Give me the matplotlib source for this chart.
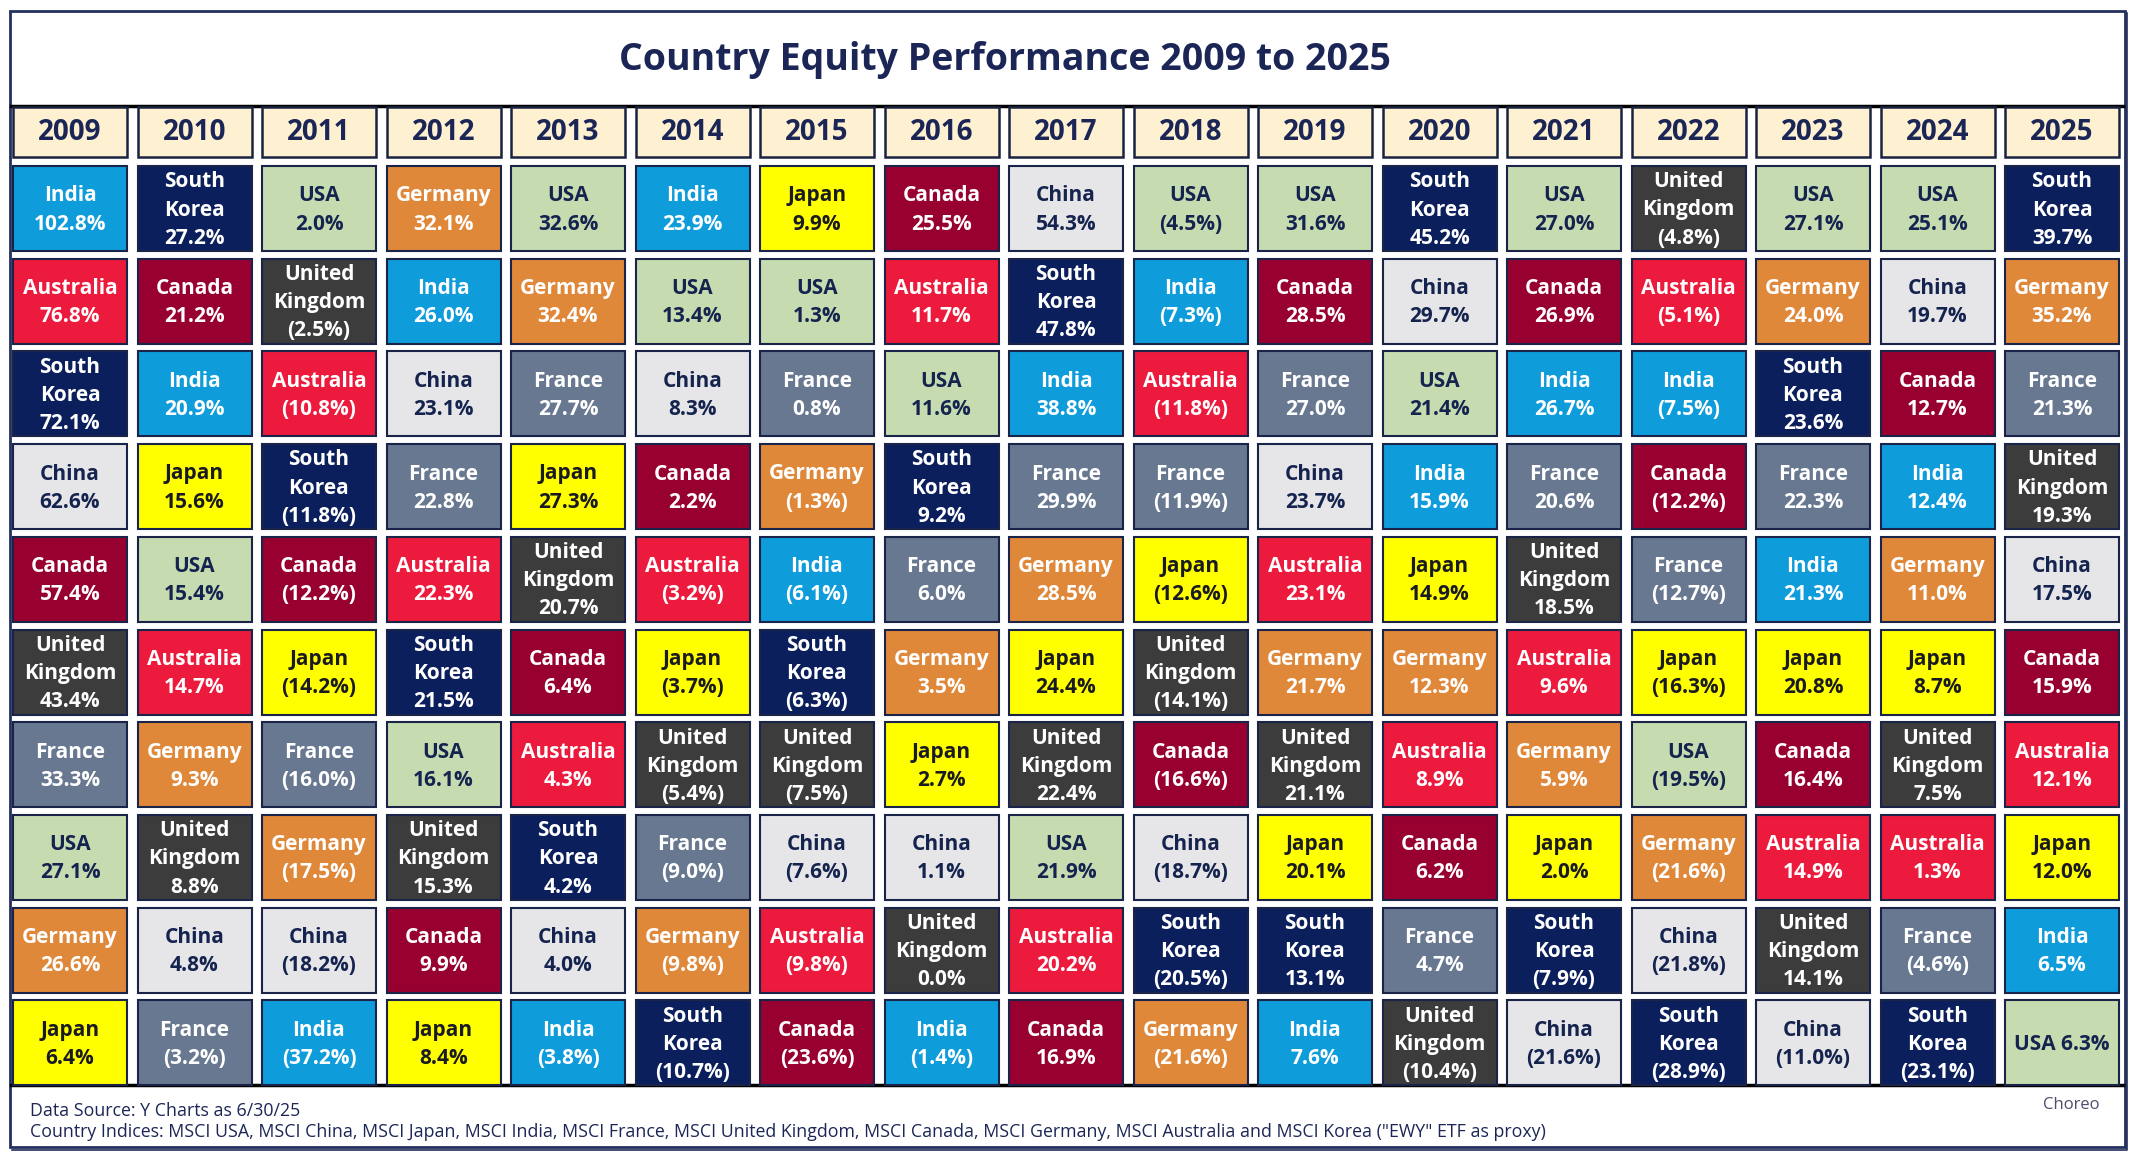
import matplotlib
matplotlib.use("Agg")
import matplotlib.pyplot as plt
from matplotlib.patches import Rectangle

# ---------------- data ----------------
years = ['2009', '2010', '2011', '2012', '2013', '2014', '2015', '2016', '2017',
         '2018', '2019', '2020', '2021', '2022', '2023', '2024', '2025']

ranked_countries = [
    ['India', 'Australia', 'South Korea', 'China', 'Canada', 'United Kingdom', 'France', 'USA', 'Germany', 'Japan'],
    ['South Korea', 'Canada', 'India', 'Japan', 'USA', 'Australia', 'Germany', 'United Kingdom', 'China', 'France'],
    ['USA', 'United Kingdom', 'Australia', 'South Korea', 'Canada', 'Japan', 'France', 'Germany', 'China', 'India'],
    ['Germany', 'India', 'China', 'France', 'Australia', 'South Korea', 'USA', 'United Kingdom', 'Canada', 'Japan'],
    ['USA', 'Germany', 'France', 'Japan', 'United Kingdom', 'Canada', 'Australia', 'South Korea', 'China', 'India'],
    ['India', 'USA', 'China', 'Canada', 'Australia', 'Japan', 'United Kingdom', 'France', 'Germany', 'South Korea'],
    ['Japan', 'USA', 'France', 'Germany', 'India', 'South Korea', 'United Kingdom', 'China', 'Australia', 'Canada'],
    ['Canada', 'Australia', 'USA', 'South Korea', 'France', 'Germany', 'Japan', 'China', 'United Kingdom', 'India'],
    ['China', 'South Korea', 'India', 'France', 'Germany', 'Japan', 'United Kingdom', 'USA', 'Australia', 'Canada'],
    ['USA', 'India', 'Australia', 'France', 'Japan', 'United Kingdom', 'Canada', 'China', 'South Korea', 'Germany'],
    ['USA', 'Canada', 'France', 'China', 'Australia', 'Germany', 'United Kingdom', 'Japan', 'South Korea', 'India'],
    ['South Korea', 'China', 'USA', 'India', 'Japan', 'Germany', 'Australia', 'Canada', 'France', 'United Kingdom'],
    ['USA', 'Canada', 'India', 'France', 'United Kingdom', 'Australia', 'Germany', 'Japan', 'South Korea', 'China'],
    ['United Kingdom', 'Australia', 'India', 'Canada', 'France', 'Japan', 'USA', 'Germany', 'China', 'South Korea'],
    ['USA', 'Germany', 'South Korea', 'France', 'India', 'Japan', 'Canada', 'Australia', 'United Kingdom', 'China'],
    ['USA', 'China', 'Canada', 'India', 'Germany', 'Japan', 'United Kingdom', 'Australia', 'France', 'South Korea'],
    ['South Korea', 'Germany', 'France', 'United Kingdom', 'China', 'Canada', 'Australia', 'Japan', 'India', 'USA'],
]

ranked_returns = [
    [102.8, 76.8, 72.1, 62.6, 57.4, 43.4, 33.3, 27.1, 26.6, 6.4],
    [27.2, 21.2, 20.9, 15.6, 15.4, 14.7, 9.3, 8.8, 4.8, -3.2],
    [2.0, -2.5, -10.8, -11.8, -12.2, -14.2, -16.0, -17.5, -18.2, -37.2],
    [32.1, 26.0, 23.1, 22.8, 22.3, 21.5, 16.1, 15.3, 9.9, 8.4],
    [32.6, 32.4, 27.7, 27.3, 20.7, 6.4, 4.3, 4.2, 4.0, -3.8],
    [23.9, 13.4, 8.3, 2.2, -3.2, -3.7, -5.4, -9.0, -9.8, -10.7],
    [9.9, 1.3, 0.8, -1.3, -6.1, -6.3, -7.5, -7.6, -9.8, -23.6],
    [25.5, 11.7, 11.6, 9.2, 6.0, 3.5, 2.7, 1.1, 0.0, -1.4],
    [54.3, 47.8, 38.8, 29.9, 28.5, 24.4, 22.4, 21.9, 20.2, 16.9],
    [-4.5, -7.3, -11.8, -11.9, -12.6, -14.1, -16.6, -18.7, -20.5, -21.6],
    [31.6, 28.5, 27.0, 23.7, 23.1, 21.7, 21.1, 20.1, 13.1, 7.6],
    [45.2, 29.7, 21.4, 15.9, 14.9, 12.3, 8.9, 6.2, 4.7, -10.4],
    [27.0, 26.9, 26.7, 20.6, 18.5, 9.6, 5.9, 2.0, -7.9, -21.6],
    [-4.8, -5.1, -7.5, -12.2, -12.7, -16.3, -19.5, -21.6, -21.8, -28.9],
    [27.1, 24.0, 23.6, 22.3, 21.3, 20.8, 16.4, 14.9, 14.1, -11.0],
    [25.1, 19.7, 12.7, 12.4, 11.0, 8.7, 7.5, 1.3, -4.6, -23.1],
    [39.7, 35.2, 21.3, 19.3, 17.5, 15.9, 12.1, 12.0, 6.5, 6.3],
]

single_line_cells = [('2025', 'USA')]

title_text = 'Country Equity Performance 2009 to 2025'
source_text = 'Data Source: Y Charts as 6/30/25'
indices_text = ('Country Indices: MSCI USA, MSCI China, MSCI Japan, MSCI India, MSCI France, '
                'MSCI United Kingdom, MSCI Canada, MSCI Germany, MSCI Australia and MSCI Korea '
                '("EWY" ETF as proxy)')
brand_text = 'Choreo'

# ---------------- styles ----------------
fill_colors = {
    'India': '#0F9CDB',
    'South Korea': '#0B1F5C',
    'USA': '#C6DCB0',
    'Germany': '#E0883A',
    'Australia': '#EC1B3D',
    'Canada': '#980030',
    'United Kingdom': '#3C3C3C',
    'China': '#E6E6E8',
    'France': '#677890',
    'Japan': '#FFFF00',
}
text_colors = {
    'USA': '#15234F',
    'China': '#15234F',
    'Japan': '#1A1A22',
}
NAVY = '#1B2656'
FONT = 'Open Sans'

plt.rcParams['font.family'] = [FONT, 'DejaVu Sans']

W, H = 2136, 1156
fig = plt.figure(figsize=(W / 100, H / 100), dpi=100)
ax = fig.add_axes([0, 0, 1, 1])
ax.set_xlim(0, W)
ax.set_ylim(H, 0)
ax.axis('off')

# outer frame
ax.add_patch(Rectangle((10, 11), 2115, 1136, facecolor='white', edgecolor='#24305E', lw=2.0, zorder=0))
ax.plot([12, 2127, 2127], [1150, 1150, 13], color='#24305E', lw=1.2, zorder=0)

ax.text(1005, 60, title_text, ha='center', va='center', fontsize=27, fontweight='bold', color=NAVY)

x0, col_pitch, col_w = 13, 124.5, 114
hdr_top, hdr_h = 107, 50
row_top, row_pitch, row_h = 166, 92.7, 85

# table top / bottom black lines
ax.plot([11, 2123], [106, 106], color='black', lw=2.5, zorder=1)
ax.plot([11, 2123], [1085, 1085], color='black', lw=2.5, zorder=1)

for ci, yr in enumerate(years):
    cx = x0 + ci * col_pitch
    ax.add_patch(Rectangle((cx, hdr_top), col_w, hdr_h, facecolor='#FDF1D2',
                           edgecolor='#1A2340', lw=1.8, zorder=2))
    ax.text(cx + col_w / 2, hdr_top + hdr_h / 2 + 1, yr, ha='center', va='center',
            fontsize=20, fontweight='bold', color=NAVY, zorder=3)
    for ri, (name, val) in enumerate(zip(ranked_countries[ci], ranked_returns[ci])):
        cy = row_top + ri * row_pitch
        ax.add_patch(Rectangle((cx, cy), col_w, row_h, facecolor=fill_colors[name],
                               edgecolor='#1A2448', lw=1.5, zorder=2))
        vs = f'{val:.1f}%' if val >= 0 else f'({abs(val):.1f}%)'
        if (yr, name) in single_line_cells:
            label = f'{name} {vs}'
        else:
            label = name.replace(' ', '\n') + '\n' + vs
        ax.text(cx + col_w / 2, cy + row_h / 2 + 1.5, label, ha='center', va='center',
                fontsize=15, fontweight='bold', color=text_colors.get(name, 'white'),
                linespacing=1.45, zorder=3)

ax.text(30, 1111, source_text, ha='left', va='center', fontsize=12.8, color=NAVY)
ax.text(30, 1132, indices_text, ha='left', va='center', fontsize=12.8, color=NAVY)
ax.text(2071, 1105, brand_text, ha='center', va='center', fontsize=12, color='#4F4B6B')

fig.savefig('out.png', dpi=100, facecolor='white')
